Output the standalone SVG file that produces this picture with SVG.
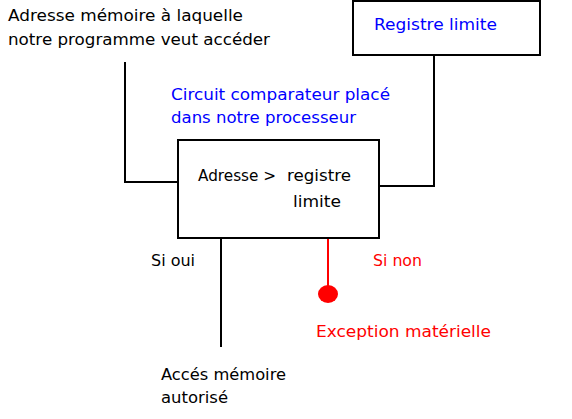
<svg xmlns="http://www.w3.org/2000/svg" width="572" height="419" viewBox="0 0 572 419">
<style>
text{font-family:"DejaVu Sans","Verdana",sans-serif;font-size:16px;fill:#000}
.b{fill:#0000ff}
.r{fill:#ff0000}
.box{fill:#fff;stroke:#000;stroke-width:2}
.ln{fill:none;stroke:#000;stroke-width:2}
.rl{fill:none;stroke:#ff0000;stroke-width:2}
</style>
<rect width="572" height="419" fill="#fff"/>
<g id="connectors">
<polyline class="ln" points="125,62 125,182 178,182"/>
<polyline class="ln" points="434,55 434,186 379,186"/>
<line class="ln" x1="221" y1="238" x2="221" y2="347"/>
<line class="rl" x1="328" y1="238" x2="328" y2="292"/>
<ellipse cx="328" cy="294" rx="10" ry="9" fill="#ff0000"/>
</g>
<g id="address">
<text x="8" y="21" textLength="235" lengthAdjust="spacingAndGlyphs">Adresse mémoire à laquelle</text>
<text x="8" y="45" textLength="262" lengthAdjust="spacingAndGlyphs">notre programme veut accéder</text>
</g>
<g id="registre">
<rect class="box" x="353" y="1" width="187" height="54"/>
<text class="b" x="374" y="30" textLength="123" lengthAdjust="spacingAndGlyphs">Registre limite</text>
</g>
<g id="circuit-label">
<text class="b" x="171" y="100" textLength="219" lengthAdjust="spacingAndGlyphs">Circuit comparateur placé</text>
<text class="b" x="171" y="123" textLength="185" lengthAdjust="spacingAndGlyphs">dans notre processeur</text>
</g>
<g id="comparateur">
<rect class="box" x="178" y="140" width="201" height="98"/>
<text x="198" y="181"><tspan textLength="78" lengthAdjust="spacingAndGlyphs">Adresse &gt;</tspan><tspan x="287" textLength="64" lengthAdjust="spacingAndGlyphs">registre</tspan></text>
<text x="293" y="207" textLength="48" lengthAdjust="spacingAndGlyphs">limite</text>
</g>
<g id="si-oui"><text x="151" y="266" textLength="44" lengthAdjust="spacingAndGlyphs">Si oui</text></g>
<g id="si-non"><text class="r" x="373" y="266" textLength="49" lengthAdjust="spacingAndGlyphs">Si non</text></g>
<g id="exception"><text class="r" x="316" y="337" textLength="175" lengthAdjust="spacingAndGlyphs">Exception matérielle</text></g>
<g id="acces">
<text x="161" y="380" textLength="125" lengthAdjust="spacingAndGlyphs">Accés mémoire</text>
<text x="161" y="403" textLength="67" lengthAdjust="spacingAndGlyphs">autorisé</text>
</g>
</svg>
